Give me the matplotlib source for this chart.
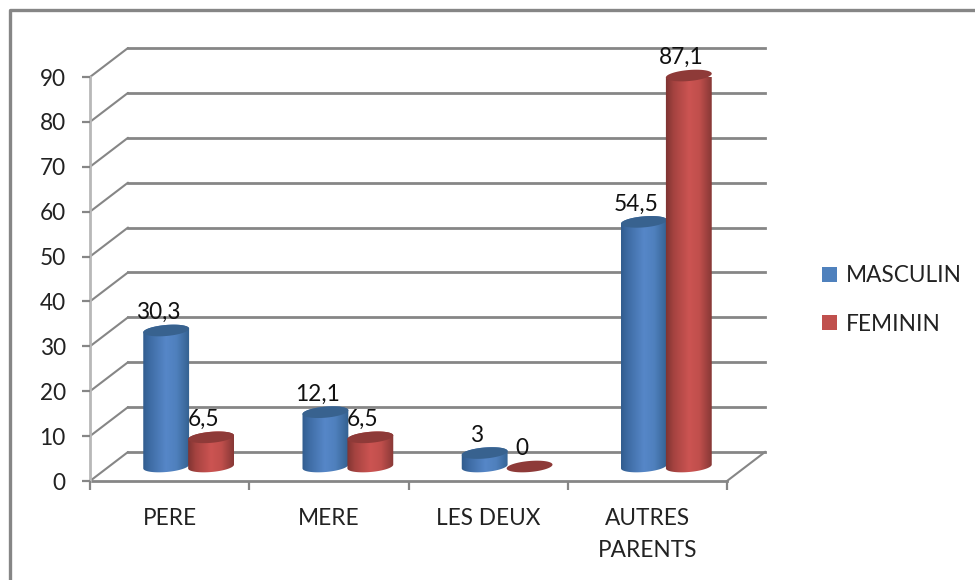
import numpy as np
import matplotlib
matplotlib.use("Agg")
import matplotlib.pyplot as plt
from matplotlib.colors import LinearSegmentedColormap
from matplotlib.lines import Line2D
from matplotlib.patches import Polygon, Patch
from matplotlib.transforms import ScaledTranslation

plt.rcParams['font.family'] = ['Lato', 'DejaVu Sans']

categories = ["PERE", "MERE", "LES DEUX", "AUTRES\nPARENTS"]
masculin = [30.3, 12.1, 3, 54.5]
feminin = [6.5, 6.5, 0, 87.1]
masculin_labels = ["30,3", "12,1", "3", "54,5"]
feminin_labels = ["6,5", "6,5", "0", "87,1"]
y_ticks = list(range(0, 100, 10))

W, H = 975, 580
GRAY = "#868686"
FS = 16.3

fig = plt.figure(figsize=(W / 100, H / 100), dpi=100, facecolor="white")
ax = fig.add_axes([90 / W, 1 - 481 / H, 637 / W, 404 / H])
ax.set_facecolor("none")
for s in ax.spines.values():
    s.set_visible(False)

sx = 637 / 4    # px per category
sy = 404 / 90   # px per value
dx = 38 / sx    # depth offset
dy = 29 / sy

LW = 2.0
# Walls
for v in y_ticks:
    ax.plot([0, dx], [v, v + dy], color=GRAY, lw=1.5, clip_on=False, zorder=1, solid_capstyle="round")
    ax.plot([dx, 4 + dx], [v + dy, v + dy], color=GRAY, lw=LW, clip_on=False, zorder=1)
ax.plot([4, 4 + dx], [0, dy], color=GRAY, lw=1.5, clip_on=False, zorder=1)
ax.plot([0, 4], [0, 0], color=GRAY, lw=LW, clip_on=False, zorder=1)
ax.plot([0, 0], [0, 90], color="#b8b8b8", lw=LW, clip_on=False, zorder=1)

ax.set_xlim(0, 4)
ax.set_ylim(0, 90)
ax.set_yticks(y_ticks)
ax.set_yticklabels([str(v) for v in y_ticks], fontsize=FS, color="#222222")
shift = ScaledTranslation(0, -1 / 100, fig.dpi_scale_trans)
for lab in ax.get_yticklabels():
    lab.set_transform(lab.get_transform() + shift)
ax.set_xticks(range(5))
ax.set_xticklabels([])
ax.tick_params(axis="y", length=6, width=1.6, color=GRAY, pad=11.5)
ax.tick_params(axis="x", length=6.5, width=1.6, color=GRAY)
for i, c in enumerate(categories):
    ax.annotate(c, (i + 0.5, 0), xytext=(0, -(508 - 481) * 0.72), textcoords="offset points",
                ha="center", va="top", fontsize=FS, color="#222222",
                linespacing=1.62, annotation_clip=False)

# Cylinders
A, B, TILT = 23.0, 5.5, np.radians(5)


def ellipse(cx, cy, t):
    px = A * np.cos(t) * np.cos(TILT) - B * np.sin(t) * np.sin(TILT)
    py = A * np.cos(t) * np.sin(TILT) + B * np.sin(t) * np.cos(TILT)
    return np.column_stack([cx + px / sx, cy + py / sy])


def cylinder(cx, val, stops, top_col, z):
    base = dy / 2
    top = base + val
    t0 = np.arctan2(-B * np.sin(TILT), A * np.cos(TILT))
    if val > 0:
        lower = ellipse(cx, base, np.linspace(np.pi + t0, 2 * np.pi + t0, 60))
        upper = ellipse(cx, top, np.linspace(t0, np.pi + t0, 60))
        poly = Polygon(np.vstack([lower, upper]), closed=True, transform=ax.transData,
                       fc="none", ec="none", clip_on=False)
        ax.add_patch(poly)
        cmap = LinearSegmentedColormap.from_list("c", stops)
        grad = np.linspace(0, 1, 128).reshape(1, -1)
        im = ax.imshow(grad, cmap=cmap, aspect="auto", zorder=z, interpolation="bilinear",
                       extent=[cx - 24 / sx, cx + 24 / sx, base - 8 / sy, top + 8 / sy])
        im.set_clip_path(poly)
    ax.add_patch(Polygon(ellipse(cx, top, np.linspace(0, 2 * np.pi, 120)), closed=True,
                         fc=top_col, ec="none", zorder=z + 0.1, clip_on=False))


BLUE = [(0, "#2f5b8c"), (0.18, "#3f6da6"), (0.5, "#5687c8"), (0.72, "#4f80bd"), (1, "#33608f")]
RED = [(0, "#7a3230"), (0.18, "#a54340"), (0.5, "#cc5452"), (0.72, "#c04f4c"), (1, "#823634")]
OFF = 0.141
for i in range(4):
    cx_m = i + 0.5 - OFF + dx / 2
    cx_f = i + 0.5 + OFF + dx / 2
    cylinder(cx_m, masculin[i], BLUE, "#38628f", 3 + i)
    cylinder(cx_f, feminin[i], RED, "#8e3a38", 3.5 + i)
    for cx, val, lab in ((cx_m, masculin[i], masculin_labels[i]),
                         (cx_f, feminin[i], feminin_labels[i])):
        ax.annotate(lab, (cx, dy / 2 + val), xytext=(-8 * 0.72, 18 * 0.72), textcoords="offset points",
                    ha="center", va="center", fontsize=FS, color="#111111", zorder=20,
                    annotation_clip=False)

ax.set_xlim(0, 4)
ax.set_ylim(0, 90)

# Legend
handles = [Patch(fc="#4f81bd", label="MASCULIN"), Patch(fc="#c0504d", label="FEMININ")]
fig.legend(handles=handles, loc="center left", bbox_to_anchor=(815 / W, 1 - 300 / H), frameon=False,
           fontsize=FS, handlelength=0.66, handleheight=0.66, handletextpad=0.42,
           labelspacing=1.2, labelcolor="#222222", borderpad=0.3, borderaxespad=0)

# Outer frame
fig.add_artist(Line2D([10 / W, 10 / W, 1], [0, 1 - 10 / H, 1 - 10 / H], color=GRAY, lw=2.4,
                      transform=fig.transFigure))

fig.savefig("out.png", dpi=100)
